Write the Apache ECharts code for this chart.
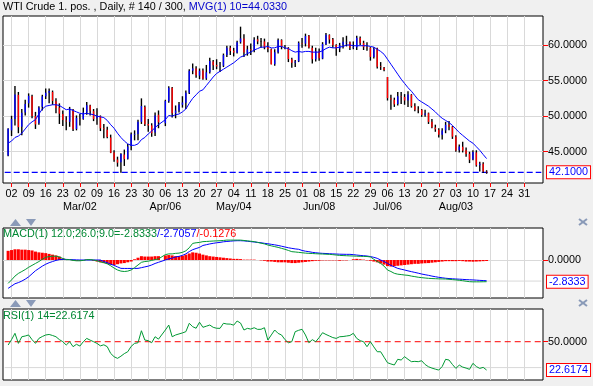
<!DOCTYPE html>
<html><head><meta charset="utf-8">
<script src="https://cdn.jsdelivr.net/npm/echarts@6/dist/echarts.min.js"></script>
<style>html,body{margin:0;padding:0;background:#f0f0f0}#c{width:593px;height:386px}</style>
</head><body><div id="c"></div>
<script>
// ---- axis slots (weekdays) ----
const firstSlotDate = '2015-01-29';
const slotCount = 158;
const lastLabelDate = '2015-08-31';
const dataStartDate = '2015-01-30';
const monthTickDates = ['2015-03-02','2015-04-06','2015-05-04','2015-06-08','2015-07-06','2015-08-03'];
const monthTickLabels = ['Mar/02','Apr/06','May/04','Jun/08','Jul/06','Aug/03'];
const priceTicks = [45, 50, 55, 60];
const macdTicks = [0];
const rsiTicks = [50];
const macdGridExtra = -2.75;
const rsiGridExtra = 25;
const rsiMidLine = 50;

// ---- price bars (one per weekday from Jan 30, null = no bar) ----
const opens = [44.45,
48.0,49.6,53.0,48.5,50.5, 51.8,52.8,50.0,49.0,51.3, 52.8,53.3,53.4,52.1,51.2, 50.3,49.4,49.2,50.9,48.2,
49.6,49.6,50.5,51.5,50.7, 49.7,50.0,48.3,48.1,47.0, 44.9,43.9,43.5,44.6,44.0, 45.8,47.4,47.5,49.2,51.3,
48.9,48.7,47.7,50.2,null, 49.0,52.1,54.0,50.4,50.8, 51.6,51.9,53.3,56.4,56.7, 55.7,56.4,55.3,56.2,57.7,
57.2,57.0,57.1,58.6,59.6, 59.2,58.9,60.4,60.9,58.9, 59.4,59.3,60.8,60.5,60.5, 59.7,59.4,57.3,59.0,60.7,
59.7,59.6,58.0,57.5,57.7, 60.3,60.2,61.3,59.6,58.0, 59.1,58.1,60.1,61.4,60.8, 60.0,59.5,60.0,60.4,60.4,
59.6,59.7,61.0,60.3,59.7, 59.6,58.3,59.5,57.0,56.8, 55.5,52.5,52.3,51.7,52.8, 52.7,52.2,53.0,51.4,50.9,
50.9,50.2,50.4,49.2,48.4, 48.1,47.4,48.0,48.8,48.5, 47.1,45.2,45.7,45.2,44.7, 43.9,44.9,43.1,43.3,42.2];
const highs = [48.30,
50.05,54.24,53.4,51.0,52.3, 53.2,53.0,50.6,51.4,53.0, 53.9,53.9,53.6,52.5,51.8, 50.8,50.0,51.3,51.0,50.1,
50.3,51.2,52.0,51.6,51.0, 51.1,50.1,48.9,48.5,47.4, 45.2,44.3,44.8,45.3,46.1, 47.7,48.0,49.5,52.5,51.5,
49.6,49.0,50.5,50.8,null, 52.3,54.2,54.1,51.5,52.0, 52.8,53.6,56.6,57.4,57.0, 56.7,56.7,57.2,58.2,57.9,
58.0,57.6,58.8,59.9,59.9, 59.6,60.6,62.58,61.5,59.9, 60.2,61.1,61.3,61.0,60.9, 60.4,59.5,59.4,60.9,60.8,
60.0,59.7,58.2,57.9,60.5, 61.0,61.6,61.4,59.9,59.6, 59.5,60.4,61.7,61.5,61.0, 60.1,60.3,61.1,61.3,60.5,
60.5,61.3,61.2,60.6,60.4, 59.7,59.7,59.6,57.6,56.9, 55.5,53.0,52.6,53.4,53.4, 53.1,53.5,53.1,51.8,51.4,
51.0,50.9,50.5,49.6,48.8, 48.3,48.3,49.2,49.3,48.6, 47.3,46.0,46.4,45.6,45.0, 45.2,45.2,43.6,43.5,42.4];
const lows = [44.35,
47.2,48.7,47.6,47.3,50.1, 51.2,49.7,48.2,48.8,50.8, 52.4,51.8,51.6,50.4,48.9, 48.6,48.0,48.5,47.9,48.0,
48.7,49.5,50.2,50.1,49.3, 48.8,47.9,46.9,46.9,44.8, 43.6,42.9,42.05,43.0,43.9, 45.2,46.6,46.6,48.9,48.6,
47.8,47.1,47.2,48.3,null, 48.6,51.9,49.8,49.7,50.5, 51.2,51.0,53.1,55.9,55.4, 55.2,55.1,55.1,56.0,56.5,
56.6,56.2,56.9,58.3,58.6, 58.4,58.8,60.2,58.3,58.5, 58.6,59.0,60.1,59.6,59.4, 59.0,57.3,57.1,58.8,59.4,
59.4,57.6,56.8,56.9,57.6, 59.6,59.8,59.5,57.4,57.7, 57.8,58.0,60.0,60.2,59.6, 58.5,59.0,59.5,59.8,59.3,
59.4,59.3,60.0,59.3,59.2, 57.8,58.1,56.7,56.5,56.3, 52.2,50.9,51.3,51.5,51.7, 51.6,51.3,51.2,50.7,50.4,
49.9,49.9,48.9,48.3,47.8, 47.0,46.7,47.6,48.0,46.8, 45.0,44.9,44.9,44.3,43.4, 43.8,42.9,42.2,42.0,41.9];
const closes = [48.24,
49.57,53.05,48.45,50.48,51.69, 52.86,50.02,48.84,51.21,52.78, 53.30,53.53,52.14,51.16,50.34, 49.45,49.25,50.99,48.17,49.76,
49.59,50.52,51.53,50.76,49.61, 50.00,48.29,48.17,47.05,44.84, 43.88,43.46,44.66,43.96,45.72, 47.45,47.51,49.21,51.43,48.87,
48.68,47.60,50.09,49.14,null, 52.14,53.98,50.42,50.79,51.64, 51.91,53.29,56.39,56.71,55.74, 56.38,55.26,56.16,57.74,57.15,
56.99,57.06,58.58,59.63,59.15, 58.93,60.40,60.93,58.94,59.39, 59.25,60.75,60.50,60.50,59.69, 59.43,57.26,58.98,60.72,59.72,
59.60,58.03,57.51,57.68,60.30, 60.20,61.26,59.64,58.00,59.13, 58.14,60.14,61.43,60.77,59.96, 59.52,59.97,60.45,60.45,59.61,
59.68,61.01,60.27,59.70,59.63, 58.33,59.47,56.96,56.93,56.50, 52.53,52.33,51.65,52.78,52.74, 52.20,53.04,51.41,50.91,50.89,
50.15,50.36,49.19,48.45,48.14, 47.39,47.98,48.79,48.52,47.12, 45.17,45.74,45.15,44.66,43.87, 44.96,43.08,43.30,42.23,42.10];

// ---- moving average ----
const ma10 = [46.2,46.5,47.0,47.2,47.6,48.2,48.8,49.2,49.5,50.3,
51.0,51.4,51.5,51.6,51.6,51.5,51.2,50.9,51.0,50.8,
50.6,50.4,50.3,50.4,50.3,50.2,50.0,49.9,49.8,49.4,
48.8,48.3,47.6,47.0,46.5,46.1,45.9,45.9,46.1,46.7,
47.0,47.5,47.9,48.4,48.8,null,49.5,50.1,50.0,50.2,
50.3,50.6,51.0,51.8,52.5,53.0,53.5,53.7,54.3,54.9,
55.5,56.0,56.3,56.6,56.9,57.2,57.5,57.9,58.3,58.5,
58.8,59.0,59.3,59.5,59.7,59.7,59.8,59.6,59.6,59.8,
59.8,59.6,59.5,59.2,59.0,59.1,59.0,59.1,59.1,59.0,
59.0,59.0,59.2,59.5,59.7,59.6,59.6,59.7,59.8,60.0,
60.0,59.9,59.9,59.9,59.9,59.9,59.8,59.7,59.4,59.1,
58.7,58.0,57.3,56.6,55.9,55.2,54.6,54.0,53.5,52.9,
52.3,52.0,51.7,51.4,51.0,50.6,50.1,49.7,49.4,49.1,
48.7,48.2,47.7,47.3,46.9,46.5,46.2,45.7,45.2,44.6,
44.033];

// ---- MACD panel ----
const macdLine = [-3.05,-2.6,-2.1,-1.75,-1.5,-1.25,-0.95,-0.7,-0.45,-0.2,
0.1,0.35,0.45,0.5,0.5,0.4,0.2,0.05,0.05,-0.05,
-0.1,-0.1,-0.05,0.05,0.05,0.0,-0.1,-0.25,-0.35,-0.5,
-0.75,-1.05,-1.3,-1.45,-1.5,-1.45,-1.3,-1.0,-0.65,-0.3,
-0.2,-0.15,-0.05,0.05,0.15,null,0.7,0.8,0.8,0.87,
0.9,1.0,1.2,1.6,2.17,2.25,2.3,2.4,2.42,2.45,
2.48,2.5,2.52,2.55,2.6,2.6,2.6,2.6,2.6,2.55,
2.5,2.45,2.4,2.3,2.2,2.1,1.96,1.85,1.75,1.65,
1.52,1.4,1.25,1.09,1.05,1.0,0.95,0.9,0.87,0.85,
0.82,0.8,0.78,0.76,0.74,0.7,0.65,0.6,0.58,0.56,
0.54,0.52,0.5,0.48,0.47,0.46,0.4,0.1,-0.2,-0.44,
-0.8,-1.3,-1.5,-1.74,-1.85,-1.9,-1.96,-2.0,-2.1,-2.17,
-2.25,-2.3,-2.35,-2.39,-2.42,-2.44,-2.46,-2.47,-2.48,-2.52,
-2.56,-2.6,-2.65,-2.7,-2.77,-2.83,-2.85,-2.85,-2.85,-2.84,
-2.8333];
const signalLine = [-3.7,-3.4,-3.1,-2.95,-2.75,-2.5,-2.2,-1.8,-1.4,-1.1,
-0.8,-0.55,-0.35,-0.2,-0.05,0.05,0.08,0.08,0.06,0.04,
0.02,0.0,0.0,0.0,0.0,0.0,0.0,0.0,-0.2,-0.35,
-0.55,-0.7,-0.9,-1.09,-1.1,-1.1,-1.1,-1.1,-1.09,-1.0,
-0.9,-0.8,-0.65,-0.45,-0.3,null,0.0,0.15,0.25,0.4,
0.48,0.6,0.8,1.1,1.35,1.5,1.65,1.9,2.0,2.1,
2.18,2.25,2.3,2.38,2.42,2.46,2.5,2.52,2.52,2.5,
2.45,2.4,2.35,2.3,2.25,2.18,2.12,2.05,1.98,1.9,
1.8,1.7,1.6,1.52,1.45,1.4,1.25,1.15,1.09,1.0,
0.95,0.9,0.87,0.85,0.82,0.8,0.78,0.76,0.75,0.74,
0.74,0.7,0.65,0.6,0.56,0.52,0.45,0.35,0.22,0.0,
-0.2,-0.44,-0.7,-0.9,-1.09,-1.2,-1.3,-1.42,-1.52,-1.62,
-1.72,-1.83,-1.92,-2.0,-2.1,-2.18,-2.26,-2.32,-2.38,-2.42,
-2.45,-2.48,-2.5,-2.53,-2.56,-2.58,-2.6,-2.63,-2.66,-2.68,
-2.7057];
const histValues = [1.2,1.3,1.4,1.4,1.35,1.35,1.3,1.25,1.1,1.0,
0.95,0.9,0.8,0.7,0.6,0.45,0.2,0.05,0.0,-0.05,
-0.1,-0.1,-0.05,0.05,0.05,-0.1,-0.2,-0.3,-0.4,-0.5,
-0.6,-0.65,-0.55,-0.45,-0.4,-0.3,-0.2,0.1,0.3,0.5,
0.45,0.45,0.45,0.5,0.5,null,0.6,0.65,0.6,0.5,
0.5,0.55,0.7,0.85,1.0,0.95,0.85,0.7,0.6,0.5,
0.45,0.4,0.35,0.3,0.25,0.2,0.15,0.15,0.12,0.05,
0.05,0.05,0.05,0.0,-0.05,-0.1,-0.2,-0.2,-0.25,-0.3,
-0.3,-0.3,-0.35,-0.4,-0.4,-0.35,-0.3,-0.25,-0.2,-0.15,
-0.1,-0.1,-0.05,-0.05,-0.05,-0.05,-0.05,-0.1,-0.05,-0.05,
0.0,0.1,0.15,0.1,0.05,-0.05,-0.1,-0.2,-0.3,-0.45,
-0.6,-0.8,-0.85,-0.8,-0.75,-0.7,-0.65,-0.6,-0.55,-0.5,
-0.5,-0.45,-0.42,-0.4,-0.35,-0.3,-0.25,-0.2,-0.15,-0.15,
-0.15,-0.15,-0.12,-0.15,-0.2,-0.2,-0.22,-0.2,-0.18,-0.15,
-0.1276];

// ---- RSI panel ----
const rsiValues = [46.8,52,58.1,48.4,54.8,55.5,56.5,52,48.4,53.2,
55,56.5,57.0,56,54.8,52,50,46.8,50,45.2,
47.5,45.8,50,53.2,51.5,50,48.4,46,47,45.2,
38.7,35.5,33.9,36,38.5,40.3,45.5,48.4,49,60.6,
51.6,51,49,54.8,52.5,null,61.3,66.1,54.8,56.5,
57.5,58.5,59.7,67.8,64.5,63,68.8,63.9,65,66.1,
63.9,63,62.9,67.8,67.1,67,66,70,68,61.3,
62.9,62.2,63.5,61.9,62,63.5,51.6,56.5,61.3,58,
56.5,52,49,50,59.7,61,62,56.5,49,52,
50,54,58.7,57,55.5,54,53.2,54.8,55,55.5,
56,58.1,53.2,51,50,45.2,50,45,40.3,40.3,
35,29.7,28.5,27.5,33,32.3,35.5,33,30.7,31,
30.7,31.6,28,25.8,24.5,23.5,22.6,26,33,32.3,
28,24.2,27.4,25.5,24.5,23.3,29.1,26,24.2,25.2,
22.6174];

// ---- build categories ----
const cats = [];
{ const d = new Date(firstSlotDate + 'T00:00:00Z');
  while (cats.length < slotCount) { const w = d.getUTCDay(); if (w > 0 && w < 6) cats.push(d.toISOString().slice(0,10)); d.setUTCDate(d.getUTCDate()+1); } }
const off = cats.indexOf(dataStartDate);
const isMon = v => new Date(v + 'T00:00:00Z').getUTCDay() === 1 && v <= lastLabelDate;
const pairs = arr => arr.map((v,i) => v == null ? null : [off+i, v]).filter(Boolean);
const candleData = closes.map((c,i) => c == null ? null : [off+i, opens[i], c, lows[i], highs[i]]).filter(Boolean);
const last = a => a[a.length-1];
const f4 = v => Number(v).toFixed(4);

const FONT = '"Liberation Sans", Arial, sans-serif';
const GRIDC = '#d9d9d9';
const RED = '#ff0000', BLUE = '#0000ff', GREEN = '#009933';
const TXT = 10.8;

function xAxis(gi, showLabels) {
  return {
    type: 'category', gridIndex: gi, data: cats, boundaryGap: true, position: 'bottom',
    axisLine: { show: false },
    axisTick: { show: showLabels, alignWithLabel: true, length: 4, interval: (i, v) => isMon(v), lineStyle: { color: RED } },
    axisLabel: { show: showLabels, interval: (i, v) => isMon(v), formatter: v => v.slice(8), margin: 6,
      color: '#000', fontSize: TXT, fontFamily: FONT },
    splitLine: { show: true, alignWithLabel: true, interval: (i, v) => isMon(v), lineStyle: { color: GRIDC, width: 1 } }
  };
}
function yAxis(gi, min, max, ticks, split) {
  return {
    type: 'value', gridIndex: gi, position: 'right', min, max, scale: true,
    axisLine: { show: false },
    axisTick: { show: true, customValues: ticks, length: 5, lineStyle: { color: RED } },
    axisLabel: { show: true, customValues: ticks, formatter: v => f4(v), margin: 5, color: '#000', fontSize: TXT, fontFamily: FONT },
    splitLine: { show: split, lineStyle: { color: GRIDC } }
  };
}
const boxLabel = (txt) => ({ show: true, position: 'end', distance: 4, formatter: () => txt, color: BLUE,
  backgroundColor: '#fff', borderColor: RED, borderWidth: 1, padding: [1, 2, 0, 2], fontSize: TXT, fontFamily: FONT });
const hiddenLine = { color: 'rgba(0,0,0,0)', width: 0 };
// horizontal reference line drawn as a two-point line series spanning the axis
function hLine(xi, yi, v, style, z) {
  return { type: 'line', xAxisIndex: xi, yAxisIndex: yi, z: z, symbol: 'none', silent: true,
    data: [[0, v], [slotCount - 1, v]], lineStyle: style };
}

const tri = (pts) => ({ type: 'polygon', shape: { points: pts }, style: { fill: '#8a9ab8' }, silent: true });
const cross = (cx, cy) => ([
  { type: 'line', shape: { x1: cx-4, y1: cy-3, x2: cx+4, y2: cy+3 }, style: { stroke: '#8a9ab8', lineWidth: 2 } },
  { type: 'line', shape: { x1: cx-4, y1: cy+3, x2: cx+4, y2: cy-3 }, style: { stroke: '#8a9ab8', lineWidth: 2 } }
]);
const rt = (color) => ({ color, fontSize: TXT, fontFamily: FONT, fontWeight: 'normal' });

const option = {
  animation: false,
  backgroundColor: '#f0f0f0',
  textStyle: { fontFamily: FONT },
  title: [
    { left: 3, top: 2, padding: 0, text: '{a|WTI Crude 1. pos. , Daily, # 140 / 300, }{b|MVG(1) 10=' + f4(last(ma10)) + '}',
      textStyle: { fontWeight: 'normal', fontSize: TXT, rich: { a: rt('#000'), b: rt('#0000cc') } } },
    { left: 3, top: 229, padding: 0, text: '{g|MACD(1) 12.0;26.0;9.0=' + f4(last(macdLine)) + '}{b|/' + f4(last(signalLine)) + '}{r|/' + f4(last(histValues)) + '}',
      textStyle: { fontWeight: 'normal', fontSize: TXT, rich: { g: rt('#008833'), b: rt(BLUE), r: rt(RED) } } },
    { left: 3, top: 311, padding: 0, text: 'RSI(1) 14=' + f4(last(rsiValues)), textStyle: { color: '#008833', fontSize: TXT, fontWeight: 'normal', fontFamily: FONT } }
  ],
  grid: [
    { left: 3, top: 16, width: 540, height: 167, show: true, backgroundColor: '#fff', borderColor: '#000', borderWidth: 1 },
    { left: 3, top: 228, width: 540, height: 70, show: true, backgroundColor: '#fff', borderColor: '#000', borderWidth: 1 },
    { left: 3, top: 309, width: 540, height: 71, show: true, backgroundColor: '#fff', borderColor: '#000', borderWidth: 1 }
  ],
  xAxis: [
    xAxis(0, true),
    { type: 'category', gridIndex: 0, data: cats, position: 'bottom', offset: 13,
      axisLine: { show: false }, axisTick: { show: false }, splitLine: { show: false },
      axisLabel: { interval: (i, v) => monthTickDates.includes(v), formatter: v => monthTickLabels[monthTickDates.indexOf(v)] || '',
        margin: 6, color: '#000', fontSize: TXT, fontFamily: FONT } },
    xAxis(1, false),
    xAxis(2, false)
  ],
  yAxis: [
    yAxis(0, 40.6, 64.08, priceTicks, true),
    yAxis(1, -4.96, 4.18, macdTicks, true),
    yAxis(2, 13.0, 81.6, rsiTicks, false)
  ],
  series: [
    hLine(2, 1, macdGridExtra, { color: GRIDC, type: 'solid', width: 1 }, 1),
    hLine(3, 2, rsiGridExtra, { color: GRIDC, type: 'solid', width: 1 }, 1),
    hLine(3, 2, rsiMidLine, { color: RED, type: [6, 4], width: 1 }, 2),
    hLine(0, 0, last(closes), { color: BLUE, type: [6, 3], width: 1.2 }, 2),
    { type: 'custom', xAxisIndex: 0, yAxisIndex: 0, z: 3, data: candleData,
      encode: { x: 0, y: [1, 2, 3, 4] },
      renderItem: (params, api) => {
        const x = api.value(0), o = api.value(1), c = api.value(2), l = api.value(3), h = api.value(4);
        const pt = api.coord([x, h]), pb = api.coord([x, l]), po = api.coord([x, o]), pc = api.coord([x, c]);
        const w = 1.4, cx = pt[0];
        const col = c > o ? BLUE : (c < o ? RED : '#000');
        const y1 = Math.min(po[1], pc[1]), y2 = Math.max(po[1], pc[1]);
        return { type: 'group', children: [
          { type: 'rect', shape: { x: cx - w/2, y: pt[1], width: w, height: Math.max(pb[1]-pt[1], 1) }, style: { fill: '#000' } },
          { type: 'rect', shape: { x: cx - w/2, y: y1, width: w, height: Math.max(y2-y1, 0.6) }, style: { fill: col } }
        ] };
      } },
    { type: 'line', name: 'MVG', xAxisIndex: 0, yAxisIndex: 0, z: 4, data: pairs(ma10), showSymbol: false, symbol: 'none',
      connectNulls: true, lineStyle: { color: BLUE, width: 1 },
      markLine: { silent: true, symbol: ['none', 'none'], animation: false, lineStyle: hiddenLine,
        label: boxLabel(f4(last(closes))), data: [ { yAxis: last(closes) } ] } },
    { type: 'bar', xAxisIndex: 2, yAxisIndex: 1, z: 2, data: pairs(histValues), barWidth: 3, itemStyle: { color: RED } },
    { type: 'line', xAxisIndex: 2, yAxisIndex: 1, z: 3, data: pairs(signalLine), symbol: 'none', connectNulls: true, lineStyle: { color: BLUE, width: 1 } },
    { type: 'line', xAxisIndex: 2, yAxisIndex: 1, z: 4, data: pairs(macdLine), symbol: 'none', connectNulls: true, lineStyle: { color: GREEN, width: 1 },
      markLine: { silent: true, symbol: ['none', 'none'], animation: false, lineStyle: hiddenLine,
        label: boxLabel(f4(last(macdLine))), data: [ { yAxis: last(macdLine) } ] } },
    { type: 'line', xAxisIndex: 3, yAxisIndex: 2, z: 4, data: pairs(rsiValues), symbol: 'none', connectNulls: true, lineStyle: { color: GREEN, width: 1 },
      markLine: { silent: true, symbol: ['none', 'none'], animation: false, lineStyle: hiddenLine,
        label: boxLabel(f4(last(rsiValues))), data: [ { yAxis: last(rsiValues) } ] } }
  ],
  graphic: [
    tri([[10,226],[15.5,219],[21,226]]), tri([[26,219],[31,226],[36,219]]),
    tri([[10,307],[15.5,300],[21,307]]), tri([[26,300],[31,307],[36,300]]),
    ...cross(583, 222), ...cross(583, 303)
  ]
};
const chart = echarts.init(document.getElementById('c'));
chart.setOption(option);
</script>
</body></html>
